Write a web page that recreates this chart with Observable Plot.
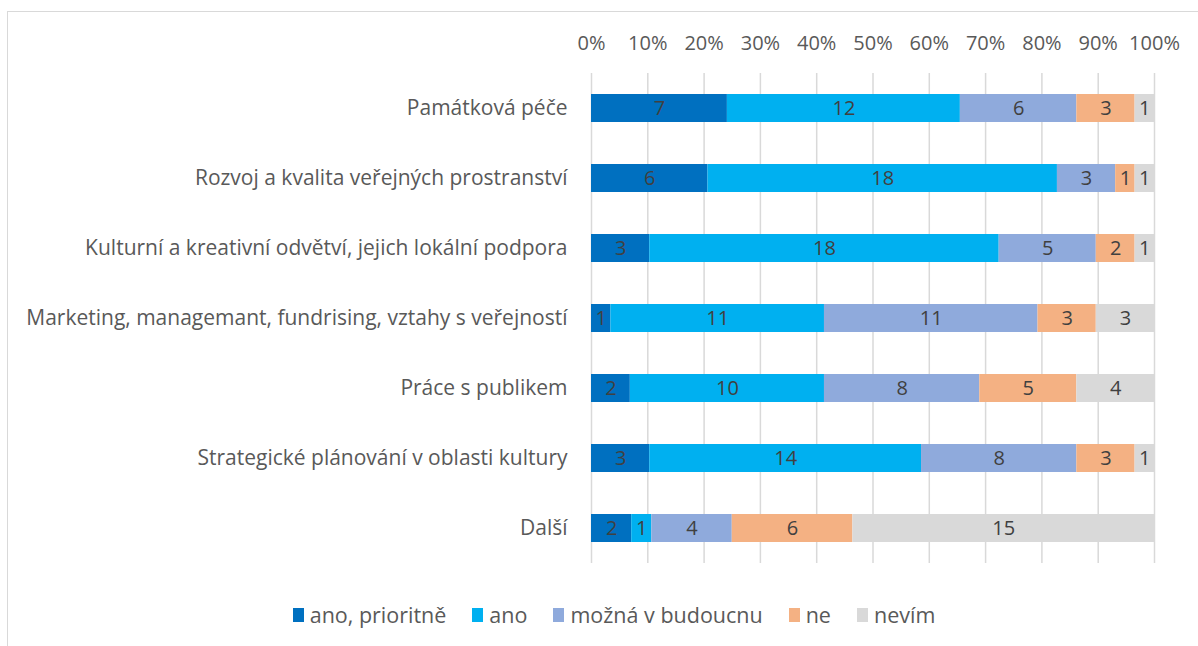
<!DOCTYPE html>
<html><head><meta charset="utf-8">
<script src="https://cdn.jsdelivr.net/npm/d3@7"></script>
<script src="https://cdn.jsdelivr.net/npm/@observablehq/plot@0.6"></script>
<style>
body{margin:0;background:#fff;font-family:"Open Sans","Noto Sans",sans-serif;}
#frame{position:absolute;left:7px;top:11px;width:1300px;height:700px;border:1.5px solid #d9d9d9;box-sizing:border-box;}
#chart{position:absolute;left:0;top:0;}
#legend{position:absolute;left:15px;top:600px;width:1198px;display:flex;justify-content:center;gap:26px;font-size:21.5px;color:#595959;}
#legend span.item{display:flex;align-items:center;}
#legend i{display:inline-block;width:11px;height:14px;margin-right:6px;}
</style></head><body>
<div id="frame"></div>
<div id="chart"></div>
<div id="legend"></div>
<script>
const categories = [
  "Památková péče",
  "Rozvoj a kvalita veřejných prostranství",
  "Kulturní a kreativní odvětví, jejich lokální podpora",
  "Marketing, managemant, fundrising, vztahy s veřejností",
  "Práce s publikem",
  "Strategické plánování v oblasti kultury",
  "Další"
];
const seriesNames = ["ano, prioritně", "ano", "možná v budoucnu", "ne", "nevím"];
const seriesColors = ["#0070C0", "#00B0F0", "#8FAADC", "#F4B183", "#D9D9D9"];
const anoPrioritne = [7, 6, 3, 1, 2, 3, 2];
const ano = [12, 18, 18, 11, 10, 14, 1];
const moznaVBudoucnu = [6, 3, 5, 11, 8, 8, 4];
const ne = [3, 1, 2, 3, 5, 3, 6];
const nevim = [1, 1, 1, 3, 4, 1, 15];
const xTicks = [0, 0.1, 0.2, 0.3, 0.4, 0.5, 0.6, 0.7, 0.8, 0.9, 1];

const seriesValues = [anoPrioritne, ano, moznaVBudoucnu, ne, nevim];
const data = [];
categories.forEach((c, i) => {
  seriesNames.forEach((s, j) => data.push({cat: c, series: s, value: seriesValues[j][i]}));
});

const chart = Plot.plot({
  width: 1198,
  height: 580,
  marginTop: 73,
  marginBottom: 17,
  marginLeft: 591,
  marginRight: 44,
  style: {fontFamily: "'Open Sans', 'Noto Sans', sans-serif", fontSize: "19px", color: "#595959", background: "transparent"},
  x: {domain: [0, 1], label: null},
  y: {domain: categories, paddingInner: 0.6, paddingOuter: 0.3, label: null},
  color: {domain: seriesNames, range: seriesColors},
  marks: [
    Plot.ruleX(xTicks, {stroke: "#d9d9d9", strokeWidth: 1.5}),
    Plot.axisX({anchor: "top", ticks: xTicks, tickFormat: d3.format(".0%"), tickSize: 0, tickPadding: 24, fontSize: 20, fill: "#595959", label: null}),
    Plot.axisY({tickSize: 0, tickPadding: 24, fontSize: 21, fill: "#595959", label: null}),
    Plot.barX(data, Plot.stackX({x: "value", y: "cat", fill: "series", offset: "normalize", order: seriesNames})),
    Plot.text(data, Plot.stackX({x: "value", y: "cat", z: "series", offset: "normalize", order: seriesNames, text: d => String(d.value), fill: "#404040", fontSize: 20}))
  ]
});
document.getElementById("chart").appendChild(chart);

const legend = document.getElementById("legend");
seriesNames.forEach((s, j) => {
  const it = document.createElement("span");
  it.className = "item";
  it.innerHTML = `<i style="background:${seriesColors[j]}"></i>${s}`;
  legend.appendChild(it);
});
</script>
</body></html>
